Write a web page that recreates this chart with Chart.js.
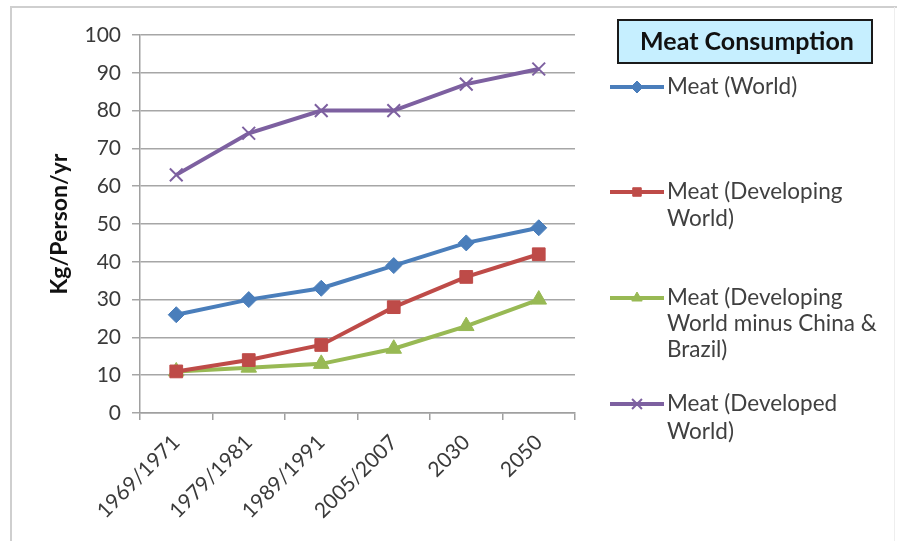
<!DOCTYPE html>
<html>
<head>
<meta charset="utf-8">
<script src="https://cdn.jsdelivr.net/npm/chart.js@4"></script>
<style>
html,body{margin:0;padding:0;background:#fff;}
#wrap{position:relative;width:897px;height:541px;}
canvas{display:block;}
</style>
</head>
<body>
<div id="wrap"><canvas id="c" width="897" height="541"></canvas></div>
<script>
const categories = ["1969/1971", "1979/1981", "1989/1991", "2005/2007", "2030", "2050"];
const meatWorld = [26, 30, 33, 39, 45, 49];
const meatDeveloping = [11, 14, 18, 28, 36, 42];
const meatDevelopingExChinaBrazil = [11, 12, 13, 17, 23, 30];
const meatDeveloped = [63, 74, 80, 80, 87, 91];
const seriesNames = [
  ["Meat (World)"],
  ["Meat (Developing", "World)"],
  ["Meat (Developing", "World minus China &", "Brazil)"],
  ["Meat (Developed", "World)"]
];
const yTicks = [0, 10, 20, 30, 40, 50, 60, 70, 80, 90, 100];
const legendTitle = "Meat Consumption";
const yTitle = "Kg/Person/yr";

const FONT = "Lato, 'Open Sans', sans-serif";
const TXT = "#3a3a3a";

const styles = [
  {color:"#4a7ebb", point:"rectRot", r:8},
  {color:"#be4b48", point:"rect", r:9},
  {color:"#98b954", point:"triangle", r:9},
  {color:"#7d60a0", point:"crossRot", r:9}
];
const seriesData = [meatWorld, meatDeveloping, meatDevelopingExChinaBrazil, meatDeveloped];

const datasets = seriesData.map((d, i) => ({
  label: seriesNames[i].join(" "),
  data: d,
  borderColor: styles[i].color,
  backgroundColor: styles[i].color,
  borderWidth: 4,
  pointStyle: styles[i].point,
  pointRadius: styles[i].r,
  pointBorderWidth: styles[i].point === "crossRot" ? 2 : 1,
  pointBorderColor: styles[i].color,
  pointBackgroundColor: styles[i].color,
  tension: 0
}));

const lineYs = [[87], [192, 219], [298, 324, 350], [404, 432]];

const decor = {
  id: "decor",
  beforeDraw(chart) {
    const ctx = chart.ctx;
    ctx.save();
    ctx.strokeStyle = "#cfcfcf";
    ctx.lineWidth = 2;
    ctx.beginPath();
    ctx.moveTo(11, 541);
    ctx.lineTo(11, 7);
    ctx.lineTo(897, 7);
    ctx.stroke();
    ctx.strokeStyle = "#eeeeee";
    ctx.lineWidth = 1;
    ctx.beginPath();
    ctx.moveTo(894.5, 7);
    ctx.lineTo(894.5, 541);
    ctx.stroke();
    ctx.restore();
  },
  afterDraw(chart) {
    const ctx = chart.ctx;
    ctx.save();
    // title box
    ctx.fillStyle = "#c6efff";
    ctx.fillRect(618, 20, 254, 43);
    ctx.strokeStyle = "#1a1a1a";
    ctx.lineWidth = 2;
    ctx.strokeRect(618, 20, 254, 43);
    ctx.fillStyle = "#111";
    ctx.font = "bold 25px " + FONT;
    ctx.textAlign = "center";
    ctx.textBaseline = "middle";
    ctx.fillText(legendTitle, 747, 42);
    // legend entries
    chart.data.datasets.forEach((ds, i) => {
      const ys = lineYs[i];
      const y0 = ys[0];
      ctx.strokeStyle = ds.borderColor;
      ctx.fillStyle = ds.borderColor;
      ctx.lineWidth = 4;
      ctx.beginPath();
      ctx.moveTo(610, y0);
      ctx.lineTo(664, y0);
      ctx.stroke();
      ctx.lineWidth = ds.pointBorderWidth;
      Chart.helpers.drawPoint(ctx, {
        pointStyle: ds.pointStyle,
        radius: ds.pointStyle === "crossRot" ? 7 : 6,
        rotation: 0,
        borderWidth: ds.pointBorderWidth
      }, 637, y0);
      ctx.fillStyle = "#404040";
      ctx.font = "22.5px " + FONT;
      ctx.textAlign = "left";
      ctx.textBaseline = "middle";
      seriesNames[i].forEach((t, k) => ctx.fillText(t, 667, ys[k]));
    });
    ctx.restore();
  }
};

new Chart(document.getElementById("c"), {
  type: "line",
  data: { labels: categories, datasets },
  plugins: [decor],
  options: {
    responsive: false,
    animation: false,
    layout: { padding: { left: 46, top: 35, right: 322, bottom: 0 } },
    plugins: { legend: { display: false }, tooltip: { enabled: false } },
    scales: {
      x: {
        offset: true,
        grid: { offset: true, drawOnChartArea: false, drawTicks: true, tickLength: 7, color: "#a0a0a0", lineWidth: 1.5 },
        border: { color: "#a0a0a0", width: 1.5 },
        ticks: { color: TXT, font: { family: FONT, size: 21 }, minRotation: 45, maxRotation: 45, padding: 10 },
        afterFit(s) { s.height = 128; }
      },
      y: {
        min: 0, max: 100,
        afterBuildTicks(s) { s.ticks = yTicks.map(v => ({ value: v })); },
        grid: { color: "#a6a6a6", lineWidth: 1.5, tickLength: 8 },
        border: { color: "#a0a0a0", width: 1.5 },
        ticks: { color: TXT, font: { family: FONT, size: 21 }, padding: 11 },
        title: { display: true, text: yTitle, color: "#111", font: { family: FONT, size: 23, weight: "bold" }, padding: { top: 0, bottom: 2 } },
        afterFit(s) { s.width = 94; }
      }
    }
  }
});
</script>
</body>
</html>
